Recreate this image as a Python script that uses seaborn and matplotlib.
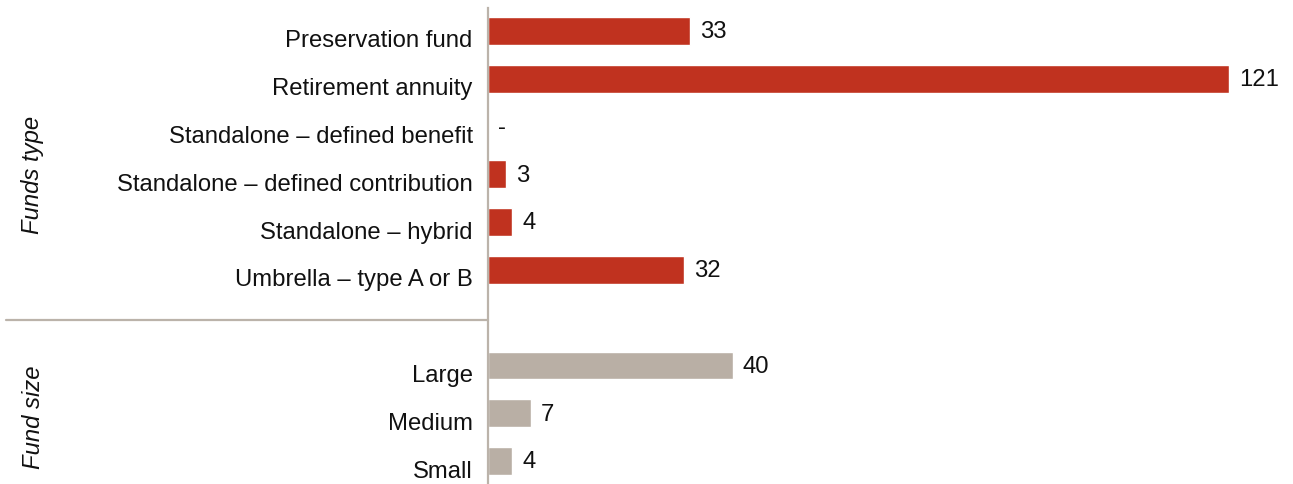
import matplotlib
matplotlib.use("Agg")
import matplotlib.pyplot as plt
import matplotlib.transforms as mtransforms
import numpy as np
import pandas as pd
import seaborn as sns

# Survey counts by fund type and fund size
type_labels = ["Preservation fund", "Retirement annuity", "Standalone – defined benefit",
               "Standalone – defined contribution", "Standalone – hybrid", "Umbrella – type A or B"]
type_values = [33, 121, 0, 3, 4, 32]
size_labels = ["Large", "Medium", "Small"]
size_values = [40, 7, 4]

RED = "#c0321f"
GREY = "#b9afa5"
LINE = "#bbb3aa"
FS = 17.2

sns.set_theme(style="white")
plt.rcParams["font.family"] = ["Liberation Sans", "DejaVu Sans"]

spacer = " "
rows = ([(l, v, "type") for l, v in zip(type_labels, type_values)]
        + [(spacer, np.nan, "type")]
        + [(l, v, "size") for l, v in zip(size_labels, size_values)])
df = pd.DataFrame(rows, columns=["label", "value", "group"])
order = list(df["label"])

fig = plt.figure(figsize=(12.93, 4.84), dpi=100)
ax = fig.add_axes([488 / 1293, 0, (1229 - 488) / 1293, 1 - 8 / 484])

sns.barplot(data=df, y="label", x="value", hue="group", order=order,
            palette={"type": RED, "size": GREY}, dodge=False, width=0.58,
            saturation=1, legend=False, ax=ax, orient="h")

ax.set_xlim(0, 121)
ax.set_ylim(9.48, -0.48)
ax.set_xlabel("")
ax.set_ylabel("")
ax.set_xticks([])

for s in ["top", "right", "bottom"]:
    ax.spines[s].set_visible(False)
ax.spines["left"].set_color(LINE)
ax.spines["left"].set_linewidth(1.6)

ax.tick_params(axis="y", length=0, pad=11, labelsize=FS, labelcolor="#111111")
shift = mtransforms.ScaledTranslation(0, -8 / 100, fig.dpi_scale_trans)
for t in ax.get_yticklabels():
    t.set_transform(t.get_transform() + shift)

# Value labels to the right of each bar
for i, row in df.iterrows():
    if pd.isna(row["value"]):
        continue
    txt = "-" if row["value"] == 0 else f"{int(row['value'])}"
    ax.annotate(txt, xy=(row["value"], i), xytext=(7, -1), textcoords="offset points",
                ha="left", va="center", fontsize=FS, color="#111111")

# Separator between the two groups
sep = order.index(spacer)
trans = mtransforms.blended_transform_factory(ax.transAxes, ax.transData)
ax.plot([-482 / 741, 0], [sep + 0.05, sep + 0.05], transform=trans, color=LINE,
        lw=1.6, clip_on=False)

# Group titles
fig.text(33 / 1293, 1 - 175 / 484, "Funds type", rotation=90, style="italic",
         fontsize=FS, ha="center", va="center", color="#111111")
fig.text(33 / 1293, 1 - 417 / 484, "Fund size", rotation=90, style="italic",
         fontsize=FS, ha="center", va="center", color="#111111")

fig.savefig("out.png", dpi=100)
